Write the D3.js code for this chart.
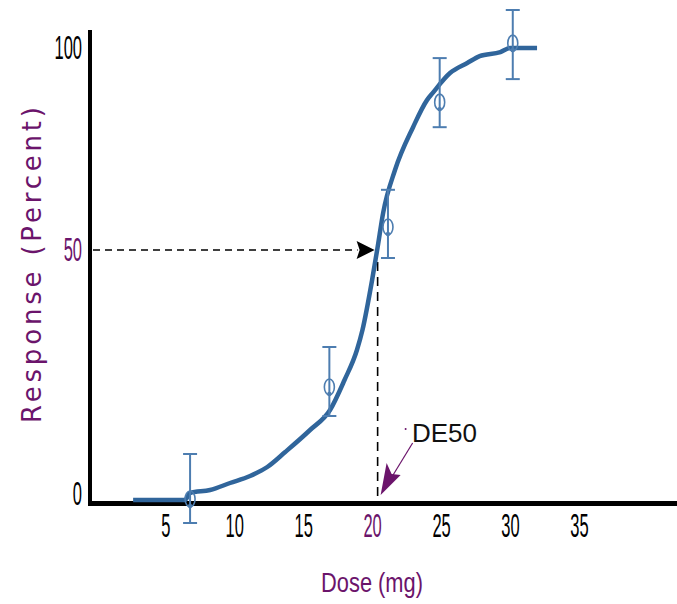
<!DOCTYPE html>
<html>
<head>
<meta charset="utf-8">
<script src="https://cdn.jsdelivr.net/npm/d3@7"></script>
<style>
body{margin:0;background:#fff;}
svg{display:block;}
</style>
</head>
<body>
<svg width="677" height="604"></svg>
<script>
// curva dosis-respuesta
var curva_dosis = [2.67, 6.43, 6.8, 8.25, 9.7, 11.15, 12.4, 13.7, 15.5, 16.95, 18.0, 18.9, 19.3, 20.0, 20.4, 20.8, 21.66, 22.97, 23.98, 24.4, 25.65, 26.9, 27.8, 29.3, 30.0, 31.96];
var curva_resp  = [0, 0, 1.4, 2.0, 3.4, 4.8, 6.6, 9.6, 14.0, 18.0, 24.0, 30.0, 34.0, 44.0, 50.7, 59.2, 69.8, 80.4, 87.1, 88.9, 93.8, 96.3, 98.0, 99.0, 100, 100];

// puntos medidos con barras de error
var puntos_dosis = [6.8, 16.9, 21.15, 24.9, 30.2];
var puntos_resp  = [0.2, 22.6, 55.7, 86.6, 101.2];
var error_alto   = [9.2, 30.6, 64.9, 97.5, 109.4];
var error_bajo   = [-4.6, 16.8, 48.4, 80.4, 92.3];

var ticks_x = [5, 10, 15, 20, 25, 30, 35];
var ticks_y = [0, 50, 100];
var de50 = 20.4;
var resp50 = 50;

var morado = "#6b146b";
var azul = "#30659b";
var azul_claro = "#4d7db0";

var svg = d3.select("svg");

var x = d3.scaleLinear().domain([0, 42]).range([96.3, 675.5]);
var y = d3.scaleLinear().domain([0, 50, 100]).range([500, 250, 48]);

// ejes
var eje_x = svg.append("g")
    .attr("transform", "translate(0," + 503 + ")")
    .call(d3.axisBottom(x).tickValues(ticks_x).tickSize(0));
eje_x.select(".domain").remove();
eje_x.selectAll("text")
    .attr("y", 34)
    .attr("dy", null)
    .attr("transform", "scale(0.5,1)")
    .style("font-family", "'Liberation Sans', Arial, sans-serif")
    .style("font-size", "33px")
    .attr("fill", function(d) { return d == 20 ? morado : "#000"; });

var eje_y = svg.append("g")
    .attr("transform", "translate(90,0)")
    .call(d3.axisLeft(y).tickValues(ticks_y).tickSize(0));
eje_y.select(".domain").remove();
eje_y.selectAll("text")
    .attr("x", -16)
    .attr("dy", function(d) { return d == 0 ? "0.15em" : "0.32em"; })
    .attr("transform", "scale(0.5,1)")
    .style("font-family", "'Liberation Sans', Arial, sans-serif")
    .style("font-size", "33px")
    .attr("fill", function(d) { return d == 50 ? morado : "#000"; });

svg.append("line")
    .attr("x1", 90).attr("x2", 90)
    .attr("y1", 30).attr("y2", 505)
    .attr("stroke", "#000").attr("stroke-width", 4);
svg.append("line")
    .attr("x1", 88).attr("x2", 677)
    .attr("y1", 503.5).attr("y2", 503.5)
    .attr("stroke", "#000").attr("stroke-width", 5);

// lineas punteadas hasta DE50
svg.append("line")
    .attr("x1", 93).attr("x2", x(de50) - 20)
    .attr("y1", y(resp50)).attr("y2", y(resp50))
    .attr("stroke", "#000").attr("stroke-width", 1.6)
    .attr("stroke-dasharray", "7,5");
svg.append("line")
    .attr("x1", x(de50)).attr("x2", x(de50))
    .attr("y1", y(resp50) + 12).attr("y2", y(0) - 2)
    .attr("stroke", "#000").attr("stroke-width", 1.6)
    .attr("stroke-dasharray", "9,6");

// punta de flecha negra
var px = x(de50) - 3, py = y(resp50);
svg.append("path")
    .attr("d", "M" + px + "," + py +
      " L" + (px - 12) + "," + (py - 6) +
      " L" + (px - 18) + "," + (py - 9) +
      " L" + (px - 15) + "," + py +
      " L" + (px - 18) + "," + (py + 9) +
      " L" + (px - 12) + "," + (py + 6) + " Z")
    .attr("fill", "#000");

// curva
var linea = d3.line()
    .curve(d3.curveMonotoneX)
    .x(function(d) { return x(d[0]); })
    .y(function(d) { return y(d[1]); });

svg.append("path")
    .datum(d3.zip(curva_dosis, curva_resp))
    .attr("d", linea)
    .attr("fill", "none")
    .attr("stroke", azul)
    .attr("stroke-width", 4.5);

// barras de error y puntos
var puntos = svg.selectAll(".punto")
    .data(d3.range(puntos_dosis.length))
    .enter().append("g")
    .attr("class", "punto");

puntos.append("line")
    .attr("x1", function(i) { return x(puntos_dosis[i]); })
    .attr("x2", function(i) { return x(puntos_dosis[i]); })
    .attr("y1", function(i) { return y(error_alto[i]); })
    .attr("y2", function(i) { return y(error_bajo[i]); })
    .attr("stroke", azul_claro).attr("stroke-width", 2);
puntos.append("line")
    .attr("x1", function(i) { return x(puntos_dosis[i]) - 7; })
    .attr("x2", function(i) { return x(puntos_dosis[i]) + 7; })
    .attr("y1", function(i) { return y(error_alto[i]); })
    .attr("y2", function(i) { return y(error_alto[i]); })
    .attr("stroke", azul_claro).attr("stroke-width", 2);
puntos.append("line")
    .attr("x1", function(i) { return x(puntos_dosis[i]) - 7; })
    .attr("x2", function(i) { return x(puntos_dosis[i]) + 7; })
    .attr("y1", function(i) { return y(error_bajo[i]); })
    .attr("y2", function(i) { return y(error_bajo[i]); })
    .attr("stroke", azul_claro).attr("stroke-width", 2);
puntos.append("ellipse")
    .attr("cx", function(i) { return x(puntos_dosis[i]); })
    .attr("cy", function(i) { return y(puntos_resp[i]); })
    .attr("rx", 5).attr("ry", 8)
    .attr("fill", "none")
    .attr("stroke", azul_claro).attr("stroke-width", 1.6);
puntos.append("circle")
    .attr("cx", function(i) { return x(puntos_dosis[i]); })
    .attr("cy", function(i) { return y(puntos_resp[i]) + 7; })
    .attr("r", 2.2)
    .attr("fill", azul_claro);

// anotacion DE50
var ax = x(de50) + 3, ay = y(0) - 5;
svg.append("line")
    .attr("x1", ax + 32).attr("y1", ay - 52)
    .attr("x2", ax + 10).attr("y2", ay - 16)
    .attr("stroke", morado).attr("stroke-width", 1.2);
svg.append("path")
    .attr("d", "M" + ax + "," + ay +
      " L" + (ax + 6) + "," + (ay - 32) +
      " L" + (ax + 11) + "," + (ay - 21) +
      " L" + (ax + 20) + "," + (ay - 20) + " Z")
    .attr("fill", morado);
svg.append("circle")
    .attr("cx", ax + 25).attr("cy", ay - 66)
    .attr("r", 1).attr("fill", morado);
svg.append("text")
    .attr("x", 412).attr("y", 442)
    .style("font-family", "'Liberation Sans', Arial, sans-serif")
    .style("font-size", "26px")
    .attr("fill", "#111")
    .text("DE50");

// titulos de ejes
svg.append("text")
    .attr("transform", "translate(372,592) scale(0.78,1)")
    .attr("text-anchor", "middle")
    .style("font-family", "'Liberation Sans', Arial, sans-serif")
    .style("font-size", "28px")
    .attr("fill", morado)
    .text("Dose (mg)");

svg.append("text")
    .attr("transform", "translate(41,265) rotate(-90)")
    .attr("text-anchor", "middle")
    .attr("textLength", 316)
    .attr("lengthAdjust", "spacing")
    .style("font-family", "'DejaVu Sans', sans-serif")
    .style("font-size", "26px")
    .attr("fill", morado)
    .text("Response (Percent)");
</script>
</body>
</html>
